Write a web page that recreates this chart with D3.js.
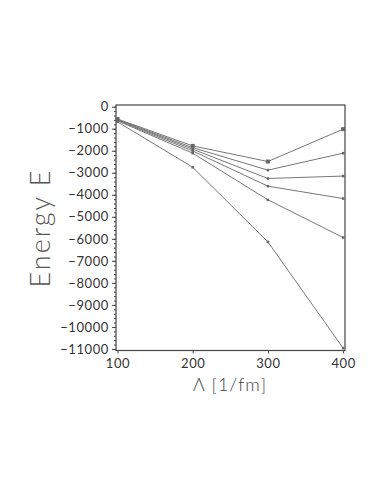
<!DOCTYPE html>
<html>
<head>
  <script src="https://d3js.org/d3.v7.min.js"></script>
  <style>
    body { margin: 0; background: #fff; font-family: "Lato", "DejaVu Sans", sans-serif; }
    .tick text { fill: #333; }
  </style>
</head>
<body>
  <svg id="chart" width="382" height="494"></svg>
  <script>
    // cutoff values on the x axis
    const lambdas = [100, 200, 300, 400];
    // energies for each curve
    const curveA = [-560, -1780, -2490, -1020];
    const curveB = [-580, -1860, -2880, -2110];
    const curveC = [-600, -1930, -3260, -3150];
    const curveD = [-620, -2010, -3610, -4170];
    const curveE = [-640, -2110, -4230, -5940];
    const curveF = [-690, -2750, -6140, -10960];
    const curves = [curveA, curveB, curveC, curveD, curveE, curveF];
    const xTicks = [100, 200, 300, 400];
    const yTicks = d3.range(0, -11001, -1000);
    const yMinor = d3.range(0, -11001, -200);

    const plotLeft = 116, plotRight = 345, plotTop = 105, plotBottom = 350.5;
    const svg = d3.select("#chart");

    const x = d3.scaleLinear().domain([98, 402.5]).range([plotLeft, plotRight]);
    const y = d3.scaleLinear().domain([-11070, 77]).range([plotBottom, plotTop]);

    // frame around the plot
    svg.append("rect")
      .attr("x", plotLeft).attr("y", plotTop)
      .attr("width", plotRight - plotLeft).attr("height", plotBottom - plotTop)
      .attr("fill", "none").attr("stroke", "#444").attr("stroke-width", 1.2);

    // minor ticks on the y axis
    svg.append("g")
      .attr("transform", `translate(${plotLeft},0)`)
      .call(d3.axisLeft(y).tickValues(yMinor).tickSize(2).tickFormat(""))
      .call(g => g.select(".domain").remove())
      .selectAll("line").attr("stroke", "#444");

    // y axis
    svg.append("g")
      .attr("transform", `translate(${plotLeft},0)`)
      .call(d3.axisLeft(y).tickValues(yTicks).tickSize(4).tickPadding(3)
        .tickFormat(d => d === 0 ? "0" : "\u2212" + Math.abs(d)))
      .call(g => g.select(".domain").remove())
      .call(g => g.selectAll("line").attr("stroke", "#444"))
      .selectAll("text").attr("font-size", 13).attr("letter-spacing", 0.6)
      .attr("font-family", "Lato, sans-serif");

    // x axis
    svg.append("g")
      .attr("transform", `translate(0,${plotBottom})`)
      .call(d3.axisBottom(x).tickValues(xTicks).tickSize(3).tickPadding(5))
      .call(g => g.select(".domain").remove())
      .call(g => g.selectAll("line").attr("stroke", "#444"))
      .selectAll("text").attr("font-size", 13).attr("letter-spacing", 0.6)
      .attr("font-family", "Lato, sans-serif");

    // curves
    const line = d3.line().x((d, i) => x(lambdas[i])).y(d => y(d));
    curves.forEach((c, k) => {
      svg.append("path")
        .attr("d", line(c))
        .attr("fill", "none")
        .attr("stroke", "#777")
        .attr("stroke-width", 1);
      const s = k === 0 ? 4 : 2.5;
      svg.append("g").selectAll("rect")
        .data(c)
        .join("rect")
        .attr("x", (d, i) => x(lambdas[i]) - s / 2)
        .attr("y", d => y(d) - s / 2)
        .attr("width", s).attr("height", s)
        .attr("fill", "#666");
    });

    // axis titles
    svg.append("text")
      .attr("transform", "translate(50,228) rotate(-90)")
      .attr("text-anchor", "middle")
      .attr("font-size", 27)
      .attr("letter-spacing", 2)
      .attr("font-weight", 300)
      .attr("fill", "#555")
      .text("Energy E");

    svg.append("text")
      .attr("x", 230).attr("y", 391)
      .attr("text-anchor", "middle")
      .attr("font-size", 18)
      .attr("letter-spacing", 1)
      .attr("font-weight", 300)
      .attr("fill", "#444")
      .text("\u039B [1/fm]");
  </script>
</body>
</html>
